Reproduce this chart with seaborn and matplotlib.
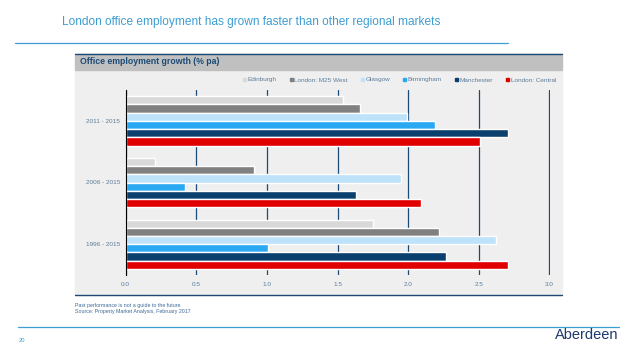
import pandas as pd
import matplotlib.pyplot as plt
import matplotlib.patches as mpatches
from matplotlib.lines import Line2D
import seaborn as sns

periods = ['2011 - 2015', '2006 - 2015', '1996 - 2015']
markets = ['Edinburgh', 'London: M25 West', 'Glasgow', 'Birmingham', 'Manchester', 'London: Central']
growth = {
    'Edinburgh':        [1.54, 0.21, 1.75],
    'London: M25 West': [1.66, 0.91, 2.22],
    'Glasgow':          [1.99, 1.95, 2.62],
    'Birmingham':       [2.19, 0.42, 1.01],
    'Manchester':       [2.71, 1.63, 2.27],
    'London: Central':  [2.51, 2.09, 2.71],
}
colors = ['#d9d9d9', '#808080', '#bde2fa', '#2aa8f2', '#0b3f6e', '#e00000']
x_ticks = [0.0, 0.5, 1.0, 1.5, 2.0, 2.5, 3.0]

NAVY = '#1b4a75'
TEXT = '#5b7c99'

rows = []
for m in markets:
    for p, v in zip(periods, growth[m]):
        rows.append({'period': p, 'market': m, 'growth': v})
df = pd.DataFrame(rows)

sns.set_style('white')
plt.rcParams['font.family'] = ['Liberation Sans', 'DejaVu Sans']

fig = plt.figure(figsize=(6.38, 3.59), dpi=100)
W, H = 638, 359

def fx(px):
    return px / W

def fy(py):
    return 1 - py / H

# page title and rules
fig.text(fx(62), fy(22), 'London office employment has grown faster than other regional markets',
         color='#3d9ed2', fontsize=8.6, va='center', ha='left')
fig.add_artist(Line2D([fx(15), fx(508)], [fy(43), fy(43)], color='#3d9ed2', lw=0.9))
fig.add_artist(Line2D([fx(18), fx(619)], [fy(327), fy(327)], color='#3d9ed2', lw=0.9))

# chart panel
fig.add_artist(mpatches.Rectangle((fx(75), fy(295)), fx(562) - fx(75), fy(70) - fy(295),
                                  transform=fig.transFigure, color='#efefef', zorder=0))
fig.add_artist(mpatches.Rectangle((fx(75), fy(70)), fx(562) - fx(75), fy(54) - fy(70),
                                  transform=fig.transFigure, color='#c0c0c0', zorder=0))
fig.add_artist(Line2D([fx(75), fx(562)], [fy(54), fy(54)], color=NAVY, lw=1.0))
fig.add_artist(Line2D([fx(75), fx(562)], [fy(295), fy(295)], color=NAVY, lw=1.0))
fig.text(fx(80), fy(62), 'Office employment growth (% pa)', color=NAVY,
         fontsize=6.3, fontweight='bold', va='center', ha='left')

ax = fig.add_axes([fx(125.7), fy(275), fx(550.3) - fx(125.7), fy(90) - fy(275)])
ax.set_facecolor('#efefef')
sns.barplot(data=df, y='period', x='growth', hue='market', order=periods, hue_order=markets,
            palette=colors, orient='h', width=0.8, saturation=1, errorbar=None, ax=ax, zorder=3)
ax.get_legend().remove()

ax.set_xlim(0, 3.006)
ax.set_ylim(2.5, -0.5)
ax.set_xticks(x_ticks)
ax.set_xticklabels([f'{t:.1f}' for t in x_ticks])
ax.set_yticks([0, 1, 2])
ax.set_yticks([-0.5, 0.5, 1.5, 2.5], minor=True)
ax.tick_params(axis='y', which='major', length=0, pad=4, labelsize=4.6, labelcolor=TEXT)
ax.tick_params(axis='y', which='minor', length=3, width=0.8, color='black', direction='out')
ax.tick_params(axis='x', length=0, pad=5, labelsize=4.6, labelcolor=TEXT)
ax.set_xlabel('')
ax.set_ylabel('')
for s in ['top', 'right', 'bottom']:
    ax.spines[s].set_visible(False)
ax.spines['left'].set_color('black')
ax.spines['left'].set_linewidth(0.8)
ax.spines['left'].set_zorder(4)
ax.grid(True, axis='x', color=NAVY, lw=0.9)
ax.set_axisbelow(True)

handles = [mpatches.Patch(color=c, label=m) for c, m in zip(colors, markets)]
fig.legend(handles=handles, loc='center right', bbox_to_anchor=(fx(556), fy(80)), ncol=6,
           frameon=False, fontsize=4.6, labelcolor=TEXT, handlelength=0.45, handleheight=0.45,
           handletextpad=0.3, columnspacing=2.0, borderaxespad=0, borderpad=0)

# footnotes
fig.text(fx(75), fy(306), 'Past performance is not a guide to the future', color='#3a6a99',
         fontsize=3.8, va='center', ha='left')
fig.text(fx(75), fy(312), 'Source: Property Market Analysis, February 2017', color='#3a6a99',
         fontsize=3.8, va='center', ha='left')
fig.text(fx(19), fy(341), '20', color='#3d9ed2', fontsize=4.2, va='center', ha='left')
fig.text(fx(618), fy(335), 'Aberdeen', color='#1d3a6e', fontsize=10.5, va='center', ha='right')

fig.savefig('out.png', dpi=100)
